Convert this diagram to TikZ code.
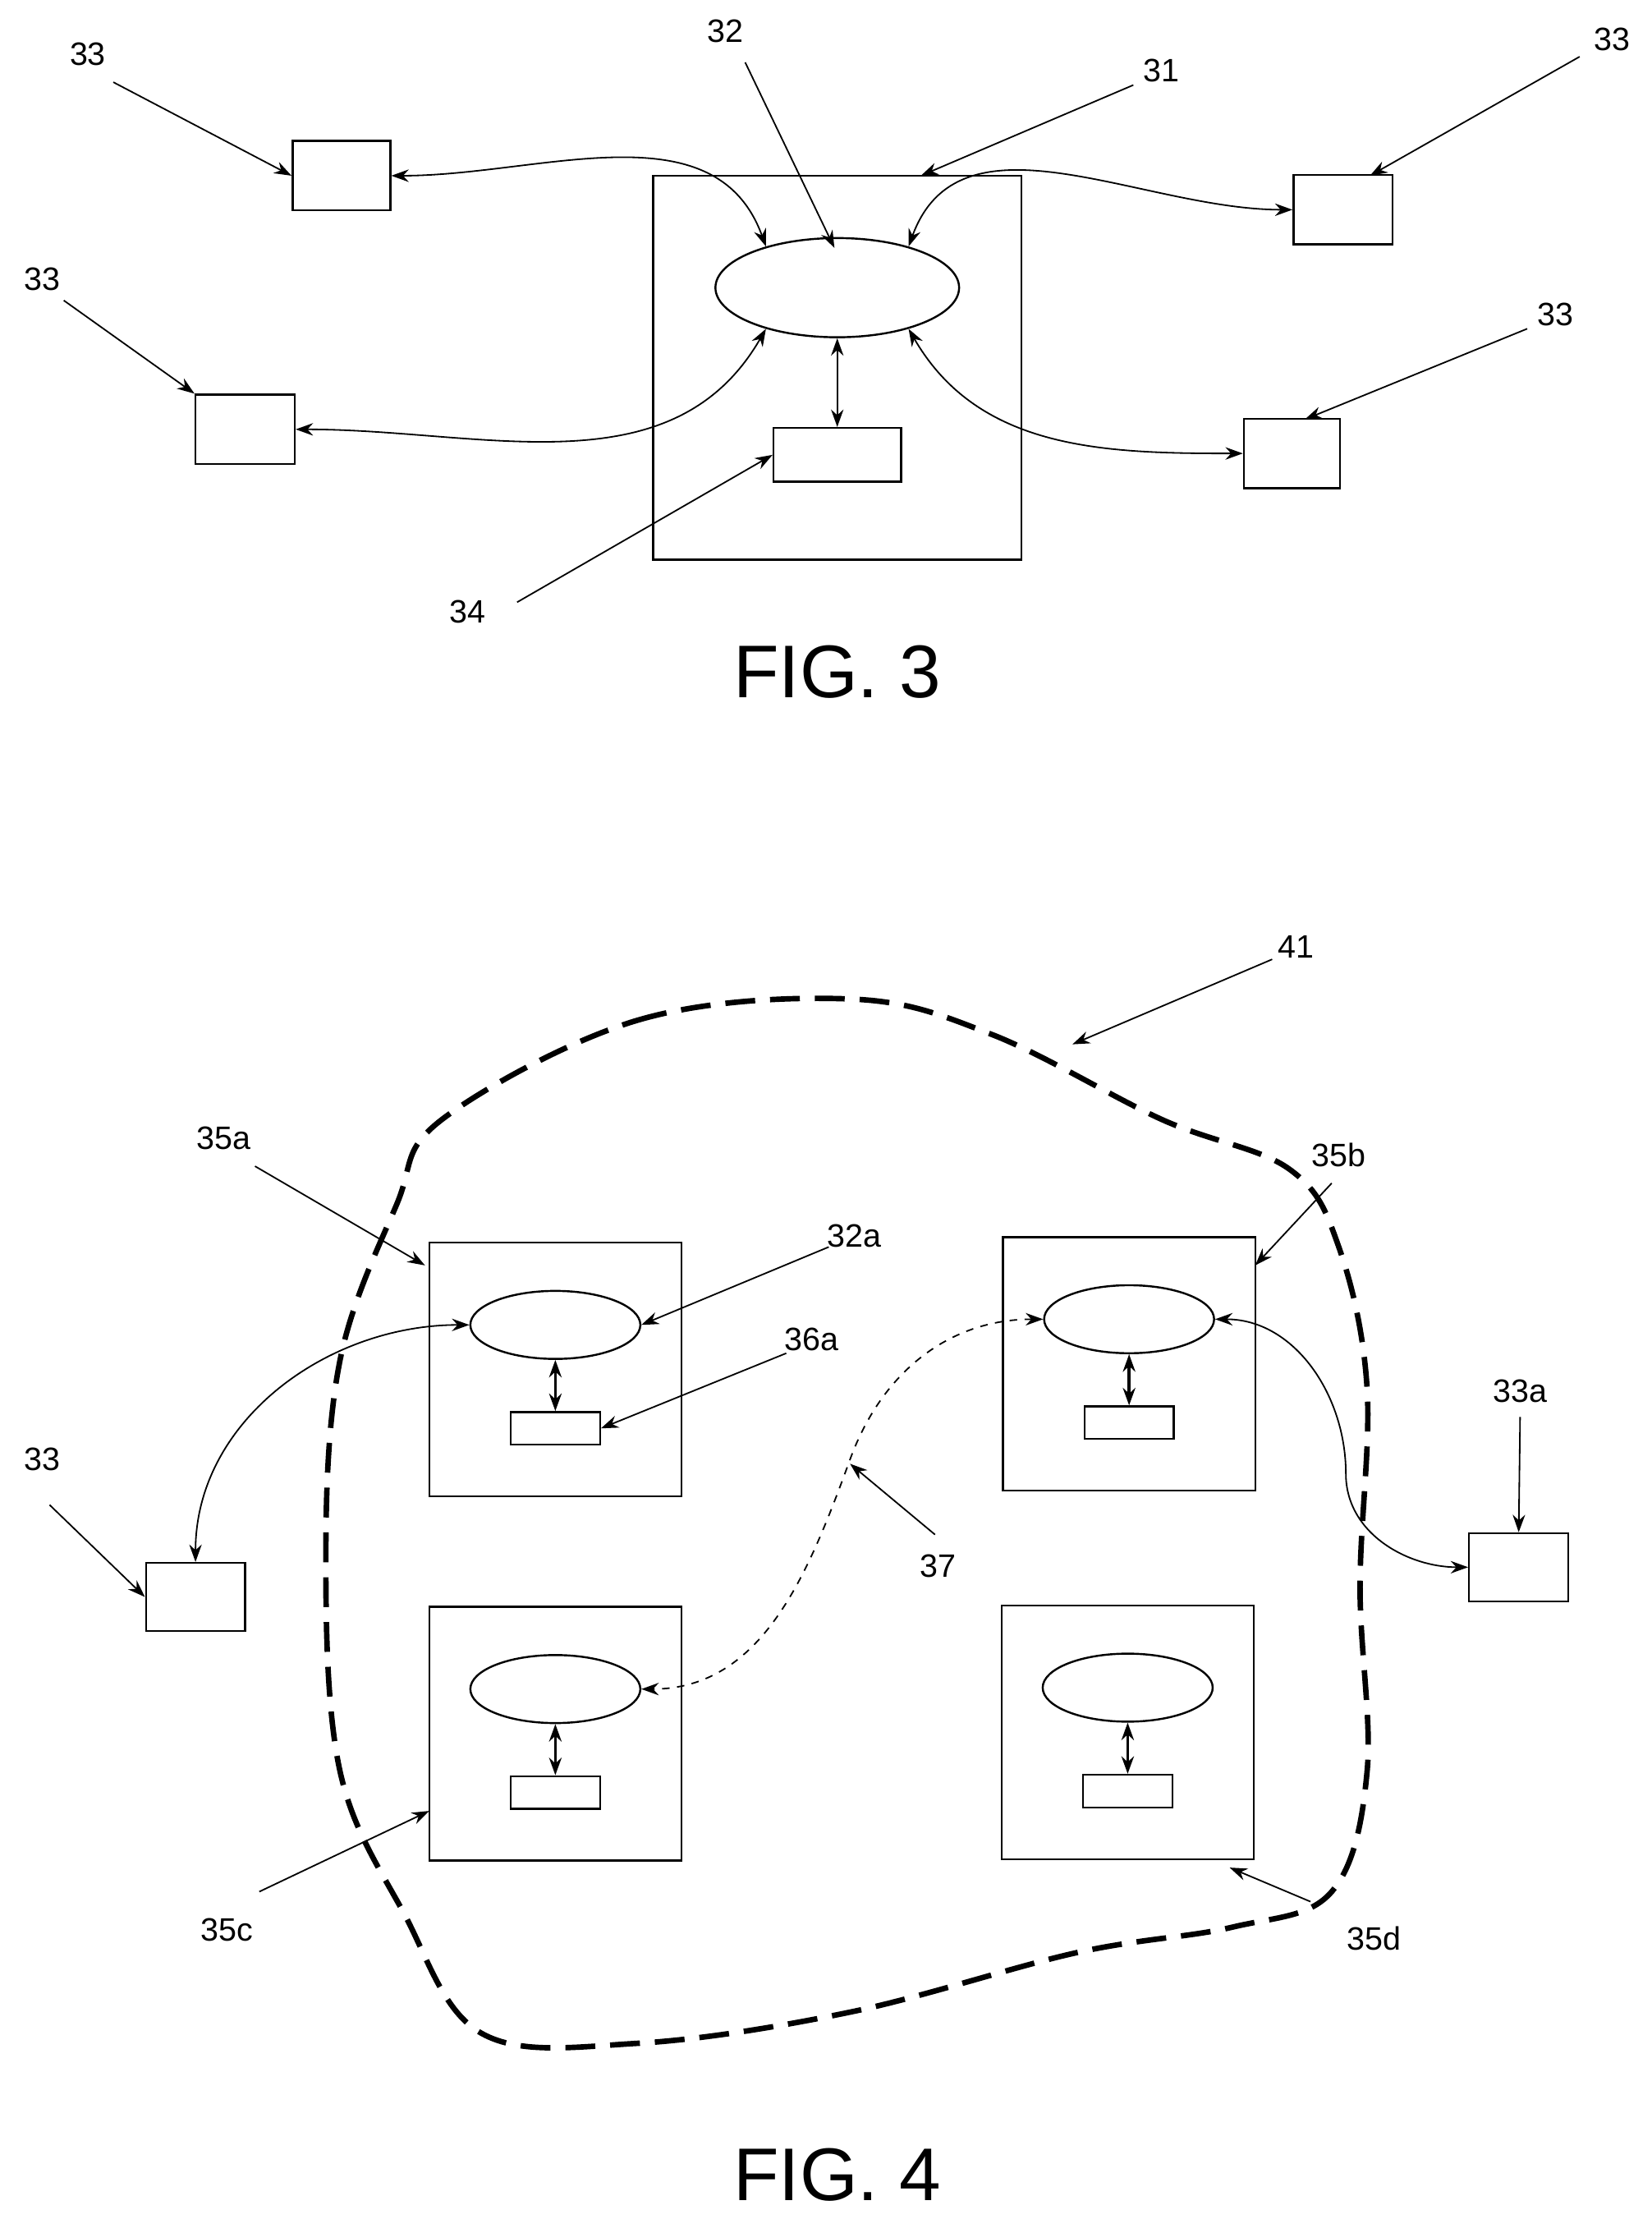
\documentclass[tikz,border=0pt]{standalone}
\usepackage{fontspec}
\setmainfont{Liberation Sans}
\usetikzlibrary{arrows.meta,shapes.geometric}
\tikzset{
  box/.style={draw, thick},
  lbl/.style={font=\fontsize{13}{15}\selectfont},
  lead/.style={-{Stealth[length=7pt,width=5pt]}, semithick},
  link/.style={{Stealth[length=7pt,width=5pt]}-{Stealth[length=7pt,width=5pt]}, semithick},
  fig/.style={font=\fontsize{30}{34}\selectfont}
}
\newcommand{\unitbox}[3]{% name, x, y of top-left corner
  \draw[box] (#2,#3) rectangle ++(178,179);
  \node[draw, thick, ellipse, minimum width=120*0.02cm, minimum height=48*0.02cm, inner sep=0pt] (#1e) at (#2+89,#3+58) {};
  \node[draw, thick, minimum width=63*0.02cm, minimum height=23*0.02cm, inner sep=0pt] (#1r) at (#2+89,#3+131) {};
  \draw[link, very thick] (#1e.south) -- (#1r.north);
}
\begin{document}
\begin{tikzpicture}[x=0.02cm, y=-0.02cm]
\useasboundingbox (0,0) rectangle (1166,1566);

% FIG. 3
\draw[box] (461,124) rectangle (721,395);
\node[draw, thick, ellipse, minimum width=172*0.02cm, minimum height=70*0.02cm] (net) at (591,203) {};
\node[draw, thick, minimum width=90*0.02cm, minimum height=38*0.02cm] (store) at (591,321) {};
\node[draw, thick, minimum width=69*0.02cm, minimum height=49*0.02cm] (tl) at (241,124) {};
\node[draw, thick, minimum width=70*0.02cm, minimum height=49*0.02cm] (ml) at (173,303) {};
\node[draw, thick, minimum width=70*0.02cm, minimum height=49*0.02cm] (tr) at (948,148) {};
\node[draw, thick, minimum width=68*0.02cm, minimum height=49*0.02cm] (mr) at (912,320) {};

\draw[link] (net.150) to[out=110, in=0] (tl.east);
\draw[link] (net.210) to[out=-120, in=0] (ml.east);
\draw[link] (net.30) to[out=70, in=180] (tr.west);
\draw[link] (net.-30) to[out=-60, in=180] (mr.west);
\draw[link] (net.south) -- (store.north);

\node[lbl] (l33a) at (62,38) {33};
\draw[lead] (80,58) -- (tl.west);
\node[lbl] (l33b) at (30,197) {33};
\draw[lead] (45,212) -- (ml.north west);
\node[lbl] (l32) at (512,22) {32};
\draw[lead] (526,44) -- (589,175);
\node[lbl] (l31) at (820,50) {31};
\draw[lead] (800,60) -- (650,124);
\node[lbl] (l33c) at (1138,28) {33};
\draw[lead] (1115,40) -- (967,124);
\node[lbl] (l33d) at (1098,222) {33};
\draw[lead] (1078,232) -- (921,296);
\node[lbl] (l34) at (330,432) {34};
\draw[lead] (365,425) -- (store.west);

\node[fig] (f3) at (591,474) {FIG. 3};

% FIG. 4
\draw[line width=2.2pt, dash pattern=on 12pt off 6pt] plot[smooth cycle, tension=0.6] coordinates {
  (312,790) (450,720) (600,705) (700,730) (820,790) (910,825) (945,880)
  (965,980) (960,1120) (965,1250) (940,1335) (870,1360) (760,1378)
  (600,1420) (450,1442) (340,1435) (285,1350) (240,1250) (230,1100)
  (240,960) (280,850)};

\unitbox{a}{303}{877}
\unitbox{b}{708}{873}
\unitbox{c}{303}{1134}
\unitbox{d}{707}{1133}

\node[draw, thick, minimum width=70*0.02cm, minimum height=48*0.02cm] (ext) at (138,1127) {};
\node[draw, thick, minimum width=70*0.02cm, minimum height=48*0.02cm] (exta) at (1072,1106) {};

\draw[link] (ae.west) to[out=180, in=90] (ext.north);
\draw[link] (be.east) to[out=0, in=90] (950,1040) to[out=-90, in=180] (exta.west);
\draw[link, dashed] (be.west) to[out=180, in=70] (600,1030) to[out=-110, in=0] (ce.east);

\node[lbl] (l35a) at (158,803) {35a};
\draw[lead] (180,823) -- (300,893);
\node[lbl] (l32a) at (603,872) {32a};
\draw[lead] (585,880) -- (ae.east);
\node[lbl] (l36a) at (573,945) {36a};
\draw[lead] (555,955) -- (ar.east);
\node[lbl] (l35b) at (945,815) {35b};
\draw[lead] (940,835) -- (886,893);
\node[lbl] (l33e) at (1073,982) {33a};
\draw[lead] (1073,1000) -- (exta.north);
\node[lbl] (l33f) at (30,1030) {33};
\draw[lead] (35,1062) -- (ext.west);
\node[lbl] (l37) at (662,1105) {37};
\draw[lead] (660,1083) -- (600,1033);
\node[lbl] (l35c) at (160,1362) {35c};
\draw[lead] (183,1335) -- (303,1278);
\node[lbl] (l35d) at (970,1368) {35d};
\draw[lead] (925,1342) -- (868,1318);
\node[lbl] (l41) at (915,668) {41};
\draw[lead] (898,677) -- (757,737);

\node[fig] (f4) at (591,1535) {FIG. 4};
\end{tikzpicture}
\end{document}
